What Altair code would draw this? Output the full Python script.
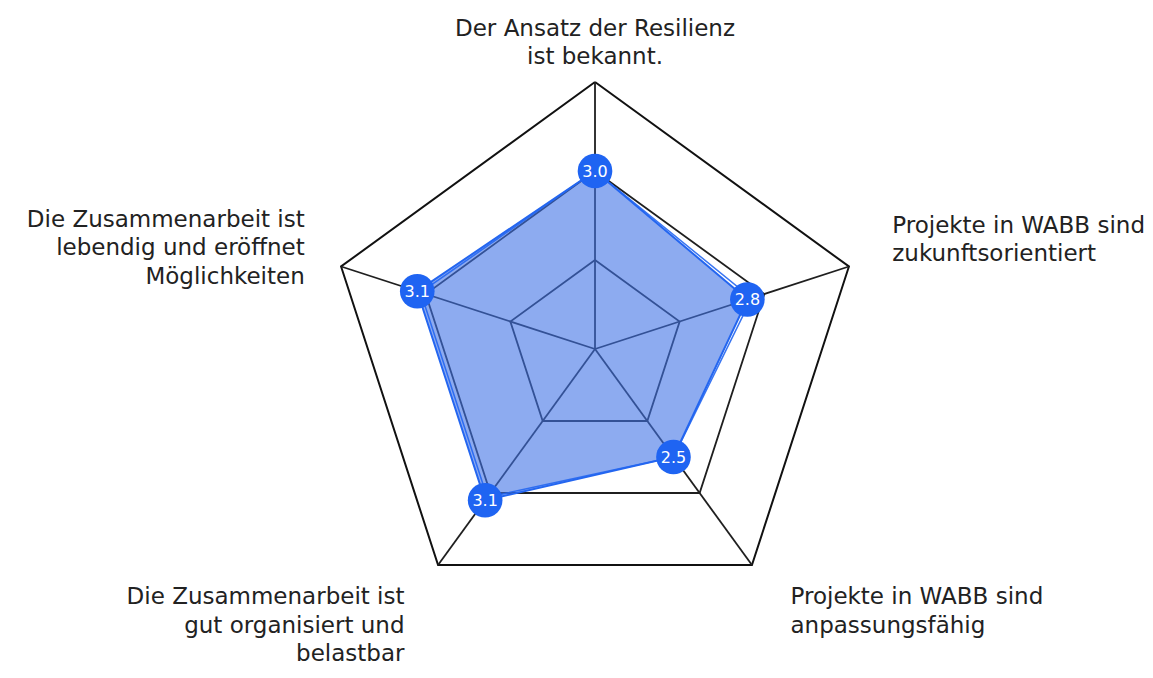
import altair as alt
import pandas as pd

# ---------------- data ----------------
categories = [
    "Der Ansatz der Resilienz\nist bekannt.",
    "Projekte in WABB sind\nzukunftsorientiert",
    "Projekte in WABB sind\nanpassungsfähig",
    "Die Zusammenarbeit ist\ngut organisiert und\nbelastbar",
    "Die Zusammenarbeit ist\nlebendig und eröffnet\nMöglichkeiten",
]
values = [3.0, 2.8, 2.5, 3.1, 3.1]
values_second = [3.0, 2.85, 2.5, 3.06, 3.06]
grid_levels = [2, 3, 4]
scale_min = 1
scale_max = 4

n = len(categories)
FONT = "DejaVu Sans"

poly_df = pd.DataFrame({"idx": list(range(n)) + [n], "value": values + values[:1]})
second_df = pd.DataFrame({"idx": list(range(n)) + [n], "value": values_second + values_second[:1]})
pts_df = pd.DataFrame({"idx": list(range(n)), "value": values})
grid_df = pd.DataFrame(
    [{"level": lv, "idx": i, "value": lv} for lv in grid_levels for i in range(n + 1)]
)
spoke_df = pd.DataFrame({"idx": list(range(n)), "value": [scale_max] * n})
label_df = pd.DataFrame({"idx": list(range(n)), "label": categories, "value": [scale_max] * n})

# polar -> cartesian through Vega expressions
ang = f"2*PI*datum.idx/{n}"
rr = f"(datum.value-{scale_min})/({scale_max}-{scale_min})"
calc = dict(
    px=f"{rr}*sin({ang})",
    py=f"{rr}*cos({ang})",
)

xs = alt.Scale(domain=[-2.1985, 2.0599], nice=False, zero=False)
ys = alt.Scale(domain=[-1.20225, 1.27715], nice=False, zero=False)
X = alt.X("px:Q", scale=xs, axis=None)
Y = alt.Y("py:Q", scale=ys, axis=None)

# grid pentagons
grid_inner = (
    alt.Chart(grid_df)
    .transform_filter(f"datum.level < {scale_max}")
    .transform_calculate(**calc)
    .mark_line(color="#1f1f1f", strokeWidth=1.8)
    .encode(x=X, y=Y, detail="level:N", order="idx:Q")
)
grid_outer = (
    alt.Chart(grid_df)
    .transform_filter(f"datum.level == {scale_max}")
    .transform_calculate(**calc)
    .mark_line(color="#111111", strokeWidth=2)
    .encode(x=X, y=Y, detail="level:N", order="idx:Q")
)
spokes = (
    alt.Chart(spoke_df)
    .transform_calculate(cx="0", cy="0", **calc)
    .mark_rule(color="#1f1f1f", strokeWidth=1.8)
    .encode(
        x=alt.X("cx:Q", scale=xs, axis=None),
        y=alt.Y("cy:Q", scale=ys, axis=None),
        x2="px:Q",
        y2="py:Q",
    )
)

fill = (
    alt.Chart(poly_df)
    .transform_calculate(**calc)
    .mark_line(fill="#4173e6", fillOpacity=0.6, stroke="#2466f0", strokeWidth=2)
    .encode(x=X, y=Y, order="idx:Q")
)
second = (
    alt.Chart(second_df)
    .transform_calculate(**calc)
    .mark_line(stroke="#2466f0", strokeWidth=1.5, opacity=0.9)
    .encode(x=X, y=Y, order="idx:Q")
)
dots = (
    alt.Chart(pts_df)
    .transform_calculate(**calc)
    .mark_circle(size=1200, color="#1f64f2", opacity=1)
    .encode(x=X, y=Y)
)
dot_text = (
    alt.Chart(pts_df)
    .transform_calculate(**calc)
    .mark_text(color="white", fontSize=16, font=FONT, align="center", baseline="middle", dy=1)
    .encode(x=X, y=Y, text=alt.Text("value:Q", format=".1f"))
)

lab_calc = dict(
    px=f"1.08*sin({ang})",
    py=f"1.08*cos({ang})",
)


def label_layer(i, align, baseline, dx, dy):
    return (
        alt.Chart(label_df)
        .transform_filter(f"datum.idx == {i}")
        .transform_calculate(**lab_calc)
        .mark_text(
            font=FONT,
            fontSize=23,
            color="#222222",
            align=align,
            baseline=baseline,
            lineBreak="\n",
            lineHeight=28.5,
            dx=dx,
            dy=dy,
        )
        .encode(x=X, y=Y, text="label:N")
    )


labels = [
    label_layer(0, "center", "top", 0, -43),
    label_layer(1, "left", "middle", 23, -34),
    label_layer(2, "left", "top", 26, 4),
    label_layer(3, "right", "top", -21, 4),
    label_layer(4, "right", "middle", -16, -40),
]

chart = (
    alt.layer(grid_inner, grid_outer, spokes, fill, second, dots, dot_text, *labels)
    .properties(width=1137, height=662, autosize=alt.AutoSizeParams(type="none"), padding=0)
    .configure_view(stroke=None)
)

chart.save("out.html", embed_options={"renderer": "svg", "actions": False})
